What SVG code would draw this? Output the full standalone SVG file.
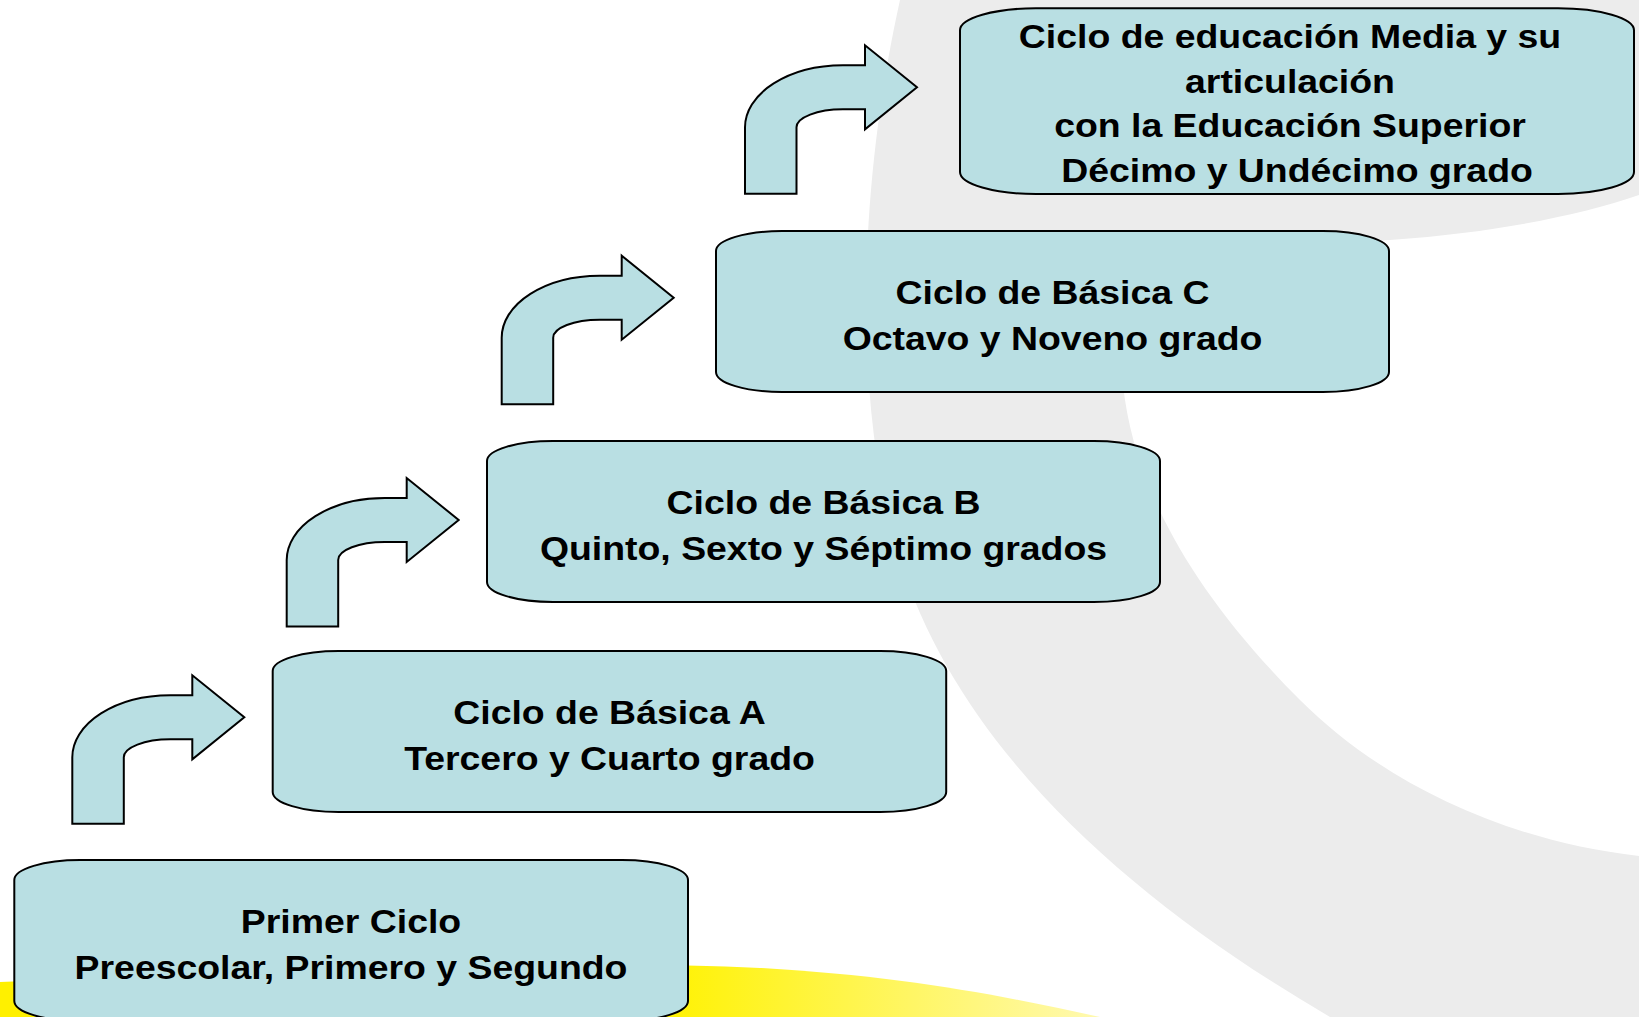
<svg xmlns="http://www.w3.org/2000/svg" xmlns:xlink="http://www.w3.org/1999/xlink" width="1639" height="1017" viewBox="0 0 1639 1017">
<style>
.box{fill:#B9DFE3;stroke:#000;stroke-width:2}
.arr{fill:#B9DFE3;stroke:#000;stroke-width:2;stroke-linejoin:miter}
.t{font-family:"Liberation Sans",Arial,sans-serif;font-weight:bold;font-size:34px;fill:#000;text-anchor:middle}
</style>
<defs>
<linearGradient id="yel" x1="0" y1="0" x2="1" y2="0">
<stop offset="0" stop-color="#FFF000"/>
<stop offset="0.6" stop-color="#FFF200"/>
<stop offset="1" stop-color="#FFF9B0"/>
</linearGradient>
<path id="bent" d="M0,106.5 L0,40 A98,62 0 0 1 98,-22 L120,-22 L120,-42 L172,0 L120,42 L120,22 L98,22 A46.5,18 0 0 0 51.5,40 L51.5,106.5 Z"/>
</defs>
<g id="background">
<rect x="0" y="0" width="1639" height="1017" fill="#FFFFFF"/>
<path d="M900,0 C860,180 850,400 900,560 C960,750 1130,900 1330,1017 L1639,1017 L1639,856 C1500,840 1380,780 1300,700 C1200,600 1140,500 1125,400 C1110,300 1150,255 1390,240 C1500,232 1580,215 1639,195 L1639,0 Z" fill="#ECECEC"/>
<path d="M0,982 C300,968 600,960 760,968 C900,976 1000,995 1100,1017 L0,1017 Z" fill="url(#yel)"/>
</g>
<g id="connectors">
<use xlink:href="#bent" class="arr" transform="translate(72.3,717.3)"/>
<use xlink:href="#bent" class="arr" transform="translate(286.7,520)"/>
<use xlink:href="#bent" class="arr" transform="translate(501.7,297.7)"/>
<use xlink:href="#bent" class="arr" transform="translate(745,87.3)"/>
</g>
<g id="node-primer">
<rect class="box" x="14.3" y="860" width="673.7" height="161" rx="66" ry="20"/>
<text class="t" transform="translate(351,0) scale(1.1,1)" x="0" y="933">Primer Ciclo</text>
<text class="t" transform="translate(351,0) scale(1.1,1)" x="0" y="979">Preescolar, Primero y Segundo</text>
</g>
<g id="node-basica-a">
<rect class="box" x="272.7" y="651" width="673.5" height="161" rx="66" ry="20"/>
<text class="t" transform="translate(609.5,0) scale(1.1,1)" x="0" y="724">Ciclo de Básica A</text>
<text class="t" transform="translate(609.5,0) scale(1.1,1)" x="0" y="770">Tercero y Cuarto grado</text>
</g>
<g id="node-basica-b">
<rect class="box" x="487" y="441" width="673" height="161" rx="66" ry="20"/>
<text class="t" transform="translate(823.5,0) scale(1.1,1)" x="0" y="514">Ciclo de Básica B</text>
<text class="t" transform="translate(823.5,0) scale(1.1,1)" x="0" y="560">Quinto, Sexto y Séptimo grados</text>
</g>
<g id="node-basica-c">
<rect class="box" x="716" y="231" width="673" height="161" rx="66" ry="20"/>
<text class="t" transform="translate(1052.5,0) scale(1.1,1)" x="0" y="304">Ciclo de Básica C</text>
<text class="t" transform="translate(1052.5,0) scale(1.1,1)" x="0" y="350">Octavo y Noveno grado</text>
</g>
<g id="node-media">
<rect class="box" x="960" y="8.3" width="674" height="185.7" rx="76" ry="22"/>
<text class="t" transform="translate(1290,0) scale(1.1,1)" x="0" y="48.5">Ciclo de educación Media y su</text>
<text class="t" transform="translate(1290,0) scale(1.1,1)" x="0" y="93">articulación</text>
<text class="t" transform="translate(1290,0) scale(1.1,1)" x="0" y="137.5">con la Educación Superior</text>
<text class="t" transform="translate(1297,0) scale(1.1,1)" x="0" y="182">Décimo y Undécimo grado</text>
</g>
</svg>
